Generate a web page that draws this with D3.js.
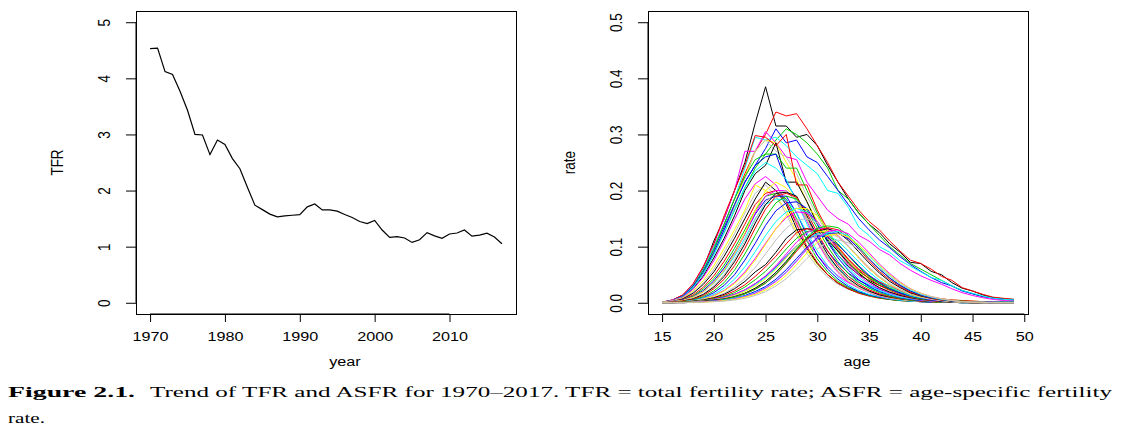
<!DOCTYPE html>
<html>
<head>
<meta charset="utf-8">
<script src="https://cdn.jsdelivr.net/npm/d3@7"></script>
<style>
  html, body { margin: 0; padding: 0; background: #ffffff; }
  svg { display: block; }
  .ax text { font-family: "Liberation Sans", Arial, sans-serif; font-size: 13.5px; fill: #000; }
  .cap { font-family: "Liberation Serif", "Times New Roman", serif; font-size: 15px; fill: #000; }
</style>
</head>
<body>
<svg id="chart" width="1130" height="436"></svg>
<script>
// ---------------- data ----------------
const years = d3.range(1970, 2018);
const tfr = [4.53,4.54,4.12,4.07,3.77,3.43,3.00,2.99,2.64,2.90,
             2.82,2.57,2.39,2.06,1.74,1.66,1.58,1.53,1.55,1.56,
             1.57,1.71,1.76,1.654,1.656,1.634,1.574,1.520,1.448,1.410,
             1.467,1.297,1.166,1.180,1.154,1.076,1.123,1.250,1.192,1.149,
             1.226,1.244,1.297,1.187,1.205,1.239,1.172,1.052];
const ages = d3.range(15, 50);
const tfrYTicks = [0, 1, 2, 3, 4, 5];
const tfrXTicks = [1970, 1980, 1990, 2000, 2010];
const ageXTicks = [15, 20, 25, 30, 35, 40, 45, 50];
const rateYTicks = [0, 0.1, 0.2, 0.3, 0.4, 0.5];
const palette = ["#000000","#FF0000","#00CD00","#0000FF","#00FFFF","#FF00FF","#FFFF00","#BEBEBE"];
// age-specific fertility rates, one row per year 1970..2017, ages 15..49
const asfr = [
 [.001,.004,.012,.030,.062,.110,.150,.200,.250,.320, .385,.315,.315,.295,.300,.280,.245,.215,.185,.160, .140,.125,.105,.090,.072,.070,.056,.050,.036,.026, .021,.014,.009,.007,.006], // 1970
 [.001,.005,.013,.032,.060,.100,.140,.185,.230,.270, .300,.340,.333,.337,.310,.280,.250,.215,.190,.165, .145,.130,.110,.092,.076,.070,.060,.047,.040,.027, .021,.015,.010,.008,.006], // 1971
 [.001,.004,.011,.027,.052,.088,.125,.165,.205,.240, .265,.290,.310,.300,.285,.265,.240,.200,.185,.160, .140,.120,.100,.085,.070,.060,.050,.040,.030,.022, .016,.011,.008,.006,.005], // 1972
 [.001,.004,.012,.030,.058,.095,.135,.175,.215,.245, .275,.310,.285,.290,.260,.250,.225,.200,.175,.150, .130,.112,.098,.082,.068,.056,.045,.036,.030,.021, .016,.011,.008,.006,.005], // 1973
 [.001,.005,.013,.032,.060,.100,.140,.185,.240,.295, .290,.295,.280,.260,.245,.230,.200,.195,.170,.135, .120,.100,.090,.075,.065,.055,.045,.040,.030,.022, .017,.012,.008,.006,.005], // 1974
 [.001,.005,.014,.033,.065,.105,.150,.200,.270,.270, .305,.285,.260,.255,.215,.190,.165,.150,.140,.120, .110,.095,.085,.070,.058,.048,.040,.033,.025,.018, .013,.009,.006,.004,.003], // 1975
 [.001,.004,.012,.028,.055,.090,.130,.175,.225,.270, .290,.285,.250,.220,.180,.145,.115,.090,.070,.055, .045,.035,.028,.022,.017,.013,.010,.007,.005,.004, .003,.002,.001,.001,.001], // 1976
 [.001,.004,.012,.028,.052,.088,.128,.170,.220,.270, .290,.270,.260,.230,.190,.155,.120,.095,.075,.060, .048,.038,.030,.023,.018,.014,.010,.007,.005,.004, .003,.002,.001,.001,.001], // 1977
 [.001,.004,.011,.025,.048,.080,.115,.155,.200,.230, .245,.285,.215,.215,.180,.140,.110,.085,.065,.050, .040,.031,.024,.018,.014,.011,.008,.006,.004,.003, .002,.002,.001,.001,.001], // 1978
 [.001,.005,.014,.034,.065,.105,.155,.200,.245,.298, .295,.280,.300,.210,.210,.165,.130,.100,.078,.060, .047,.037,.029,.022,.017,.013,.010,.007,.005,.004, .003,.002,.001,.001,.001], // 1979
 [.001,.004,.012,.030,.058,.095,.140,.185,.225,.255, .265,.265,.240,.240,.200,.160,.125,.095,.073,.056, .044,.034,.026,.020,.015,.011,.008,.006,.004,.003, .002,.002,.001,.001,.001], // 1980
 [.001,.004,.012,.029,.055,.090,.130,.175,.215,.245, .260,.265,.215,.185,.150,.120,.092,.070,.053,.040, .031,.024,.018,.014,.010,.008,.006,.004,.003,.002, .002,.001,.001,.001,.001], // 1981
 [.001,.004,.011,.027,.052,.085,.125,.165,.205,.235, .250,.240,.220,.180,.140,.108,.082,.062,.047,.036, .027,.021,.016,.012,.009,.007,.005,.004,.003,.002, .001,.001,.001,.001,.001], // 1982
 [.001,.004,.010,.024,.046,.075,.110,.148,.185,.212, .225,.210,.180,.145,.112,.085,.064,.048,.036,.027, .020,.015,.011,.008,.006,.005,.003,.002,.002,.001, .001,.001,.001,0,0], // 1983
 [.001,.003,.009,.021,.040,.066,.097,.130,.165,.210, .200,.190,.165,.125,.093,.068,.050,.036,.026,.019, .014,.010,.007,.005,.004,.003,.002,.001,.001,.001, .001,0,0,0,0], // 1984
 [.001,.003,.008,.019,.036,.060,.090,.123,.160,.195, .210,.190,.158,.120,.088,.064,.046,.033,.024,.017, .012,.009,.006,.005,.003,.002,.002,.001,.001,.001, 0,0,0,0,0], // 1985
 [.001,.002,.007,.017,.033,.055,.083,.115,.150,.185, .215,.200,.175,.132,.097,.070,.050,.035,.025,.018, .013,.009,.006,.004,.003,.002,.002,.001,.001,0, 0,0,0,0,0], // 1986
 [.001,.002,.006,.014,.028,.048,.074,.105,.140,.175, .195,.200,.180,.140,.100,.072,.050,.035,.025,.017, .012,.008,.006,.004,.003,.002,.001,.001,.001,0, 0,0,0,0,0], // 1987
 [.001,.002,.005,.012,.025,.043,.067,.097,.130,.165, .190,.195,.185,.150,.110,.078,.055,.038,.027,.019, .013,.009,.006,.004,.003,.002,.001,.001,.001,0, 0,0,0,0,0], // 1988
 [.001,.002,.005,.011,.022,.039,.062,.090,.123,.158, .183,.190,.190,.160,.120,.085,.060,.042,.029,.020, .014,.010,.007,.005,.003,.002,.001,.001,.001,0, 0,0,0,0,0], // 1989
 [.001,.002,.004,.010,.020,.035,.056,.083,.115,.150, .175,.185,.183,.160,.125,.092,.066,.046,.032,.022, .015,.011,.007,.005,.003,.002,.002,.001,.001,0, 0,0,0,0,0], // 1990
 [.001,.002,.004,.010,.020,.036,.058,.087,.122,.160, .190,.200,.200,.180,.145,.108,.077,.054,.037,.026, .018,.012,.008,.006,.004,.003,.002,.001,.001,.001, 0,0,0,0,0], // 1991
 [.001,.002,.004,.010,.020,.036,.058,.088,.124,.165, .200,.215,.205,.185,.150,.112,.080,.056,.039,.027, .019,.013,.009,.006,.004,.003,.002,.001,.001,.001, 0,0,0,0,0], // 1992
 [.001,.001,.003,.008,.016,.030,.050,.077,.110,.148, .180,.195,.200,.180,.148,.112,.081,.057,.040,.028, .019,.013,.009,.006,.004,.003,.002,.001,.001,0, 0,0,0,0,0], // 1993
 [0,.001,.003,.007,.015,.028,.047,.073,.105,.142, .175,.195,.197,.190,.155,.118,.086,.061,.043,.030, .021,.014,.010,.007,.005,.003,.002,.001,.001,.001, 0,0,0,0,0], // 1994
 [0,.001,.003,.006,.013,.025,.042,.066,.097,.133, .167,.190,.195,.188,.160,.125,.092,.066,.047,.033, .023,.016,.011,.007,.005,.003,.002,.001,.001,.001, 0,0,0,0,0], // 1995
 [0,.001,.002,.005,.011,.021,.036,.058,.087,.120, .153,.178,.190,.185,.165,.133,.100,.073,.052,.037, .026,.018,.012,.008,.005,.004,.002,.001,.001,.001, 0,0,0,0,0], // 1996
 [0,.001,.002,.004,.009,.018,.031,.050,.076,.106, .138,.164,.178,.180,.168,.140,.108,.080,.058,.041, .029,.020,.014,.009,.006,.004,.003,.002,.001,.001, 0,0,0,0,0], // 1997
 [0,.001,.002,.004,.008,.015,.026,.042,.064,.091, .120,.145,.162,.168,.162,.142,.113,.085,.062,.045, .032,.022,.015,.010,.007,.005,.003,.002,.001,.001, 0,0,0,0,0], // 1998
 [0,.001,.002,.003,.007,.013,.022,.036,.055,.079, .106,.132,.152,.162,.160,.145,.120,.092,.068,.049, .035,.025,.017,.012,.008,.005,.003,.002,.001,.001, 0,0,0,0,0], // 1999
 [0,.001,.002,.003,.007,.012,.021,.034,.052,.076, .104,.132,.155,.168,.168,.155,.130,.100,.075,.054, .039,.027,.019,.013,.009,.006,.004,.002,.001,.001, 0,0,0,0,0], // 2000
 [0,.001,.001,.003,.006,.010,.017,.028,.043,.063, .087,.112,.133,.147,.150,.142,.122,.097,.073,.053, .038,.027,.019,.013,.009,.006,.004,.002,.001,.001, 0,0,0,0,0], // 2001
 [0,.001,.001,.003,.005,.009,.015,.025,.038,.055, .068,.090,.115,.130,.132,.128,.112,.092,.071,.053, .038,.027,.019,.013,.009,.006,.004,.002,.001,.001, 0,0,0,0,0], // 2002
 [0,.001,.001,.002,.004,.008,.013,.021,.032,.047, .064,.083,.105,.125,.132,.130,.118,.098,.077,.058, .043,.031,.022,.015,.010,.007,.004,.003,.002,.001, .001,0,0,0,0], // 2003
 [0,0,.001,.002,.004,.007,.011,.018,.028,.041, .056,.075,.096,.115,.127,.130,.122,.105,.084,.064, .047,.034,.024,.017,.011,.007,.005,.003,.002,.001, .001,0,0,0,0], // 2004
 [0,0,.001,.002,.003,.006,.010,.015,.023,.034, .047,.064,.083,.101,.115,.120,.116,.103,.085,.066, .049,.036,.025,.017,.012,.008,.005,.003,.002,.001, .001,0,0,0,0], // 2005
 [0,0,.001,.002,.003,.006,.009,.014,.022,.032, .045,.061,.080,.100,.115,.123,.121,.110,.092,.073, .055,.040,.029,.020,.013,.009,.006,.004,.002,.001, .001,0,0,0,0], // 2006
 [0,0,.001,.002,.003,.006,.009,.015,.023,.034, .048,.066,.087,.108,.125,.133,.132,.120,.101,.080, .061,.045,.032,.022,.015,.010,.006,.004,.002,.001, .001,0,0,0,0], // 2007
 [0,0,.001,.002,.003,.005,.008,.013,.020,.030, .043,.060,.080,.100,.117,.127,.128,.118,.100,.080, .061,.045,.032,.023,.015,.010,.007,.004,.002,.001, .001,0,0,0,0], // 2008
 [0,0,.001,.001,.003,.005,.007,.011,.017,.026, .038,.054,.073,.093,.110,.121,.124,.117,.101,.082, .063,.047,.034,.024,.016,.011,.007,.004,.002,.001, .001,0,0,0,0], // 2009
 [0,0,.001,.001,.003,.005,.007,.011,.017,.026, .038,.054,.074,.096,.115,.128,.132,.126,.111,.091, .071,.053,.038,.027,.018,.012,.008,.005,.003,.002, .001,.001,0,0,0], // 2010
 [0,0,.001,.001,.002,.004,.006,.010,.016,.024, .035,.050,.070,.092,.113,.128,.134,.130,.116,.096, .075,.056,.041,.029,.019,.013,.008,.005,.003,.002, .001,.001,0,0,0], // 2011
 [0,0,.001,.001,.002,.004,.006,.010,.016,.024, .035,.051,.071,.095,.117,.133,.137,.134,.120,.100, .079,.060,.044,.031,.021,.014,.009,.006,.003,.002, .001,.001,0,0,0], // 2012
 [0,0,0,.001,.002,.003,.005,.008,.013,.020, .029,.042,.059,.079,.099,.116,.124,.124,.114,.097, .078,.060,.044,.031,.021,.014,.009,.006,.003,.002, .001,.001,0,0,0], // 2013
 [0,0,0,.001,.002,.003,.005,.008,.012,.018, .027,.039,.055,.075,.096,.114,.125,.127,.119,.103, .084,.065,.048,.034,.023,.015,.010,.006,.004,.002, .001,.001,0,0,0], // 2014
 [0,0,0,.001,.002,.003,.004,.007,.011,.017, .026,.038,.054,.074,.096,.115,.127,.130,.123,.108, .089,.069,.052,.037,.025,.017,.011,.007,.004,.002, .001,.001,0,0,0], // 2015
 [0,0,0,.001,.001,.002,.004,.006,.010,.015, .023,.034,.049,.068,.089,.108,.120,.123,.117,.103, .086,.067,.050,.036,.025,.017,.011,.007,.004,.002, .001,.001,0,0,0], // 2016
 [0,0,0,.001,.001,.002,.003,.005,.008,.013, .020,.030,.043,.060,.079,.096,.108,.112,.107,.095, .079,.062,.047,.034,.024,.016,.011,.007,.004,.002, .001,.001,0,0,0]  // 2017
];

// ---------------- layout ----------------
const svg = d3.select("#chart");
svg.append("rect").attr("width", 1130).attr("height", 436).attr("fill", "#fff");
const SX = 1.2; // horizontal glyph stretch of the reference

function panel(box, xs, ys, xTicks, yTicks, yFmt, xTitle, yTitle) {
  const g = svg.append("g").attr("class", "ax");
  // x axis
  const xa = g.append("g").attr("transform", `translate(0,${box.y1})`)
    .call(d3.axisBottom(xs).tickValues(xTicks).tickSize(8).tickSizeOuter(0).tickFormat(d3.format("d")));
  xa.select(".domain").remove();
  xa.selectAll(".tick line").attr("stroke", "#000");
  xa.selectAll(".tick text").attr("y", 0).attr("dy", null)
    .attr("transform", `translate(0,27) scale(${SX},1)`);
  xa.append("line").attr("x1", xs(xTicks[0])).attr("x2", xs(xTicks[xTicks.length - 1]))
    .attr("stroke", "#000");
  // y axis
  const ya = g.append("g").attr("transform", `translate(${box.x0},0)`)
    .call(d3.axisLeft(ys).tickValues(yTicks).tickSize(10).tickSizeOuter(0).tickFormat(yFmt));
  ya.select(".domain").remove();
  ya.selectAll(".tick line").attr("stroke", "#000");
  ya.selectAll(".tick text").attr("x", 0).attr("dy", null).attr("text-anchor", "middle")
    .attr("transform", `translate(-26,0) scale(${SX},1) rotate(-90)`);
  ya.append("line").attr("y1", ys(yTicks[0])).attr("y2", ys(yTicks[yTicks.length - 1]))
    .attr("stroke", "#000");
  // box
  g.append("rect").attr("x", box.x0 + 0.5).attr("y", box.y0 + 0.5)
    .attr("width", box.x1 - box.x0).attr("height", box.y1 - box.y0)
    .attr("fill", "none").attr("stroke", "#000").attr("stroke-width", 1);
  // titles
  g.append("text").attr("text-anchor", "middle")
    .attr("transform", `translate(${(box.x0 + box.x1) / 2 + 19},366) scale(${SX},1)`).text(xTitle);
  g.append("text").attr("text-anchor", "middle")
    .attr("transform", `translate(${box.x0 - 73},${(box.y0 + box.y1) / 2}) scale(${SX},1) rotate(-90)`).text(yTitle);
  return g;
}

// Left panel: TFR
const boxL = {x0: 136, x1: 516, y0: 11, y1: 314};
const xL = d3.scaleLinear().domain([1970 - 47 * 0.04, 2017 + 47 * 0.04]).range([boxL.x0, boxL.x1]);
const yL = d3.scaleLinear().domain([-0.2, 5.2]).range([boxL.y1, boxL.y0]);
panel(boxL, xL, yL, tfrXTicks, tfrYTicks, d3.format("d"), "year", "TFR");
svg.append("path").datum(years.map((y, i) => [y, tfr[i]]))
  .attr("fill", "none").attr("stroke", "#000").attr("stroke-width", 1.2)
  .attr("d", d3.line().x(d => xL(d[0])).y(d => yL(d[1])));

// Right panel: ASFR
const boxR = {x0: 648, x1: 1028, y0: 11, y1: 314};
const xR = d3.scaleLinear().domain([15 - 34 * 0.04, 49 + 34 * 0.04]).range([boxR.x0, boxR.x1]);
const yR = d3.scaleLinear().domain([-0.02, 0.52]).range([boxR.y1, boxR.y0]);
panel(boxR, xR, yR, ageXTicks, rateYTicks, d3.format(".1f"), "age", "rate");
const lineR = d3.line().x((d, i) => xR(ages[i])).y(d => yR(d));
const clip = svg.append("clipPath").attr("id", "clipR").append("rect")
  .attr("x", boxR.x0).attr("y", boxR.y0).attr("width", boxR.x1 - boxR.x0).attr("height", boxR.y1 - boxR.y0);
svg.append("g").attr("clip-path", "url(#clipR)")
  .selectAll("path").data(asfr).join("path")
  .attr("fill", "none").attr("stroke-width", 1)
  .attr("stroke", (d, i) => palette[i % palette.length])
  .attr("d", lineR);

// Caption
svg.append("text").attr("class", "cap").attr("x", 8).attr("y", 397)
  .attr("font-weight", "bold").attr("textLength", 127).attr("lengthAdjust", "spacingAndGlyphs")
  .text("Figure 2.1.");
svg.append("text").attr("class", "cap").attr("x", 150).attr("y", 397)
  .attr("textLength", 962).attr("lengthAdjust", "spacingAndGlyphs")
  .text("Trend of TFR and ASFR for 1970\u20132017.  TFR = total fertility rate; ASFR = age-specific fertility");
svg.append("text").attr("class", "cap").attr("x", 8).attr("y", 423)
  .attr("textLength", 37).attr("lengthAdjust", "spacingAndGlyphs")
  .text("rate.");
</script>
</body>
</html>
